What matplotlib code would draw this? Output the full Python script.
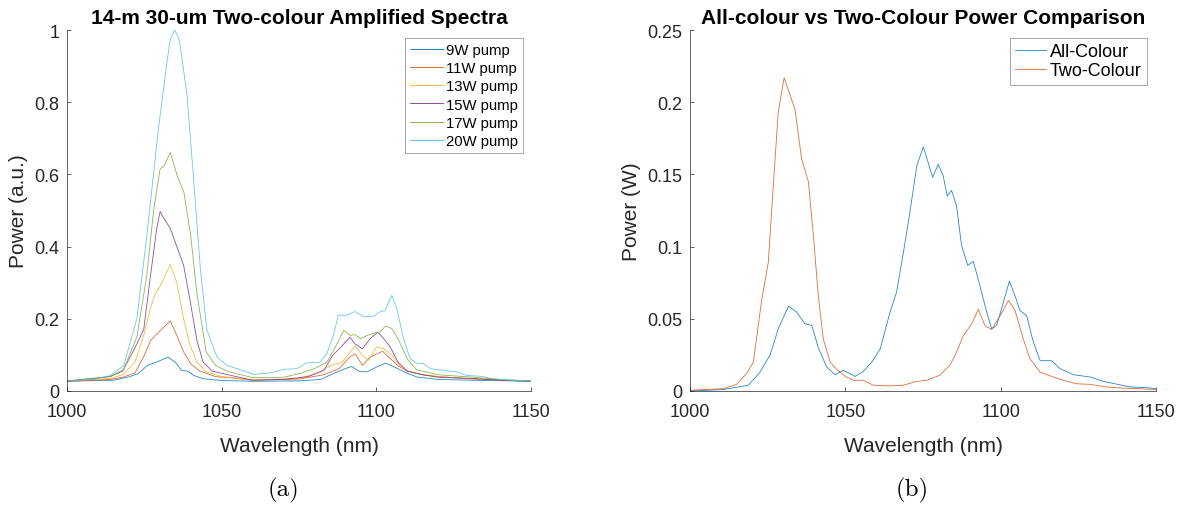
import matplotlib
matplotlib.use("Agg")
import matplotlib.pyplot as plt

# ---------------- data: panel (a) ----------------
wl_9w = [1000, 1015, 1020, 1023, 1026, 1029, 1032.6, 1035, 1037, 1039, 1041, 1044, 1050, 1060, 1075,
         1082, 1086, 1090, 1092, 1094.5, 1097, 1100, 1103, 1106, 1109, 1113, 1120, 1130, 1150]
p_9w = [0.027, 0.030, 0.039, 0.048, 0.071, 0.080, 0.094, 0.080, 0.057, 0.055, 0.043, 0.034, 0.029, 0.027, 0.028,
        0.032, 0.048, 0.062, 0.068, 0.054, 0.053, 0.066, 0.077, 0.066, 0.053, 0.039, 0.032, 0.030, 0.027]

wl_11w = [1000, 1014, 1018, 1022, 1025, 1027, 1029.6, 1033.4, 1035.5, 1037.7, 1040, 1043, 1048, 1055, 1060,
          1075, 1083, 1088, 1091.5, 1093.2, 1095.5, 1098, 1102, 1104.5, 1107, 1110, 1115, 1120, 1130, 1150]
p_11w = [0.027, 0.032, 0.038, 0.050, 0.099, 0.140, 0.163, 0.194, 0.154, 0.108, 0.075, 0.055, 0.040, 0.035, 0.030,
         0.033, 0.045, 0.062, 0.095, 0.103, 0.071, 0.094, 0.110, 0.090, 0.070, 0.055, 0.045, 0.040, 0.034, 0.027]

wl_13w = [1000, 1014, 1018, 1022, 1025, 1027, 1028.5, 1030.1, 1033.4, 1035.5, 1037.7, 1039.8, 1042, 1045, 1050,
          1060, 1075, 1081, 1085, 1089, 1091.5, 1093.2, 1095.5, 1097.5, 1100, 1102.5, 1105, 1107.5, 1110,
          1115, 1120, 1130, 1150]
p_13w = [0.027, 0.035, 0.045, 0.080, 0.160, 0.230, 0.270, 0.290, 0.350, 0.300, 0.200, 0.126, 0.080, 0.053, 0.040,
         0.030, 0.035, 0.050, 0.070, 0.080, 0.108, 0.125, 0.099, 0.085, 0.122, 0.117, 0.099, 0.071, 0.055,
         0.045, 0.040, 0.034, 0.027]

wl_15w = [1000, 1014, 1018, 1022, 1024.8, 1027, 1029, 1030.1, 1031.2, 1033.4, 1035.5, 1037.7, 1039.8, 1042,
          1044, 1047, 1052, 1060, 1070, 1078, 1083, 1086, 1088, 1091.5, 1093, 1095.5, 1098, 1100.5, 1102,
          1104.5, 1107, 1110, 1115, 1120, 1130, 1140, 1150]
p_15w = [0.027, 0.040, 0.055, 0.120, 0.170, 0.320, 0.450, 0.497, 0.480, 0.450, 0.400, 0.348, 0.250, 0.140,
         0.080, 0.055, 0.045, 0.030, 0.032, 0.040, 0.057, 0.100, 0.117, 0.149, 0.131, 0.117, 0.145, 0.163, 0.149,
         0.122, 0.080, 0.055, 0.045, 0.038, 0.035, 0.030, 0.027]

wl_17w = [1000, 1014, 1018.3, 1022.6, 1025.8, 1028, 1030.1, 1031.5, 1033.4, 1035.6, 1037.8, 1040, 1042, 1045,
          1048, 1052, 1060, 1070, 1075, 1080, 1084, 1087, 1089.5, 1091.5, 1093, 1095, 1097, 1099.5, 1101,
          1103, 1105, 1107, 1110, 1113, 1120, 1130, 1140, 1150]
p_17w = [0.028, 0.040, 0.060, 0.150, 0.320, 0.500, 0.615, 0.625, 0.661, 0.597, 0.550, 0.430, 0.270, 0.108,
         0.071, 0.054, 0.037, 0.038, 0.048, 0.062, 0.080, 0.126, 0.168, 0.154, 0.156, 0.145, 0.154, 0.161, 0.163,
         0.180, 0.173, 0.145, 0.089, 0.059, 0.045, 0.039, 0.032, 0.028]

wl_20w = [1000, 1008.6, 1014, 1018.3, 1022.6, 1025.8, 1029.6, 1032.3, 1033.4, 1034.8, 1036, 1036.6, 1038.8,
          1040.9, 1043.1, 1045.2, 1048.5, 1051.7, 1054.9, 1060.3, 1065.7, 1070, 1074.3, 1077.5, 1081.8, 1084,
          1086.1, 1087.7, 1090.4, 1093.1, 1095.8, 1099, 1101.2, 1102.8, 1105, 1106.6, 1108.8, 1110.9, 1113.1,
          1115.3, 1117.4, 1121.7, 1126, 1129.2, 1133.5, 1137.8, 1143.2, 1150]
p_20w = [0.028, 0.032, 0.043, 0.070, 0.200, 0.430, 0.730, 0.910, 0.975, 1.000, 0.980, 0.956, 0.820,
         0.590, 0.340, 0.170, 0.094, 0.071, 0.062, 0.046, 0.050, 0.060, 0.062, 0.078, 0.080, 0.103,
         0.154, 0.210, 0.210, 0.220, 0.207, 0.207, 0.219, 0.223, 0.265, 0.228, 0.145, 0.090, 0.077,
         0.076, 0.062, 0.057, 0.053, 0.043, 0.041, 0.034, 0.030, 0.028]

series_a = [("9W pump", wl_9w, p_9w), ("11W pump", wl_11w, p_11w), ("13W pump", wl_13w, p_13w),
            ("15W pump", wl_15w, p_15w), ("17W pump", wl_17w, p_17w), ("20W pump", wl_20w, p_20w)]

# ---------------- data: panel (b) ----------------
wl_two = [1000, 1010.7, 1015, 1018.2, 1020.4, 1023, 1025.2, 1026.8, 1028.4, 1030.3, 1032.2, 1033.8, 1035.9,
          1038.1, 1039.7, 1041.3, 1042.9, 1045.1, 1047.7, 1050.4, 1052.6, 1055.8, 1059, 1064.4, 1068.7, 1073,
          1076.2, 1080.5, 1083.7, 1085.8, 1088, 1090.7, 1092.8, 1095, 1097.1, 1099.8, 1102.5, 1104.6, 1107.3,
          1109.4, 1112.7, 1117, 1120.2, 1124.5, 1128.8, 1134.1, 1139.5, 1144.8, 1150]
p_two = [0.0005, 0.0016, 0.0046, 0.012, 0.020, 0.062, 0.089, 0.142, 0.193, 0.217, 0.205, 0.195, 0.161,
         0.145, 0.108, 0.066, 0.036, 0.020, 0.014, 0.0097, 0.0074, 0.0074, 0.004, 0.0035, 0.004, 0.0067,
         0.0074, 0.011, 0.018, 0.027, 0.0385, 0.0466, 0.0565, 0.045, 0.0427, 0.052, 0.0627, 0.056, 0.036,
         0.0224, 0.013, 0.0097, 0.0074, 0.005, 0.0046, 0.0028, 0.002, 0.0016, 0.001]

wl_all = [1000, 1010.7, 1018.8, 1022.5, 1025.8, 1028.4, 1031.7, 1034.3, 1037, 1039.2, 1041.3, 1044, 1046.7,
          1049.4, 1053.1, 1055.8, 1058.5, 1061.2, 1064.4, 1066.5, 1068.7, 1070.8, 1073, 1075.1, 1076.7, 1078.1,
          1079.9, 1081.5, 1082.8, 1084.2, 1085.8, 1087.4, 1089.4, 1091.2, 1093.3, 1095.5, 1097.1, 1098.7,
          1100.9, 1102.8, 1104.6, 1106.2, 1108.4, 1110.5, 1112.7, 1116.4, 1119.1, 1123.4, 1128.8, 1133,
          1136.8, 1141.6, 1147, 1150]
p_all = [0.0, 0.001, 0.004, 0.013, 0.025, 0.043, 0.0588, 0.0547, 0.0466, 0.0454, 0.030, 0.0166, 0.0113,
         0.0143, 0.0101, 0.0136, 0.020, 0.029, 0.0547, 0.0685, 0.096, 0.124, 0.156, 0.169, 0.158, 0.148,
         0.157, 0.149, 0.135, 0.139, 0.128, 0.101, 0.087, 0.0897, 0.073, 0.0547, 0.043, 0.0454,
         0.0616, 0.0761, 0.066, 0.0558, 0.052, 0.034, 0.021, 0.021, 0.0155, 0.0113, 0.0097, 0.0067,
         0.005, 0.0028, 0.0023, 0.0016]

series_b = [("All-Colour", wl_all, p_all), ("Two-Colour", wl_two, p_two)]

xticks = [1000, 1050, 1100, 1150]
yticks_a = [0, 0.2, 0.4, 0.6, 0.8, 1.0]
yticklabels_a = ["0", "0.2", "0.4", "0.6", "0.8", "1"]
yticks_b = [0, 0.05, 0.1, 0.15, 0.2, 0.25]
yticklabels_b = ["0", "0.05", "0.1", "0.15", "0.2", "0.25"]

colors = ["#0072BD", "#D95319", "#EDB120", "#7E2F8E", "#77AC30", "#4DBEEE"]

plt.rcParams['font.family'] = ['Liberation Sans', 'DejaVu Sans']

fig = plt.figure(figsize=(11.85, 5.06), dpi=100)
ax1 = fig.add_axes([67/1185, 114/506, 464/1185, 361/506])
ax2 = fig.add_axes([690/1185, 114/506, 466/1185, 361/506])

for i, (lab, x, y) in enumerate(series_a):
    ax1.plot(x, y, color=colors[i], lw=0.6, alpha=0.85, label=lab)
for i, (lab, x, y) in enumerate(series_b):
    ax2.plot(x, y, color=colors[i], lw=0.6, alpha=0.85, label=lab)


def style(ax, yt, ytl, ylim, ylabel, title):
    ax.set_xlim(1000, 1150)
    ax.set_ylim(*ylim)
    ax.set_xticks(xticks)
    ax.set_xticklabels([str(t) for t in xticks])
    ax.set_yticks(yt)
    ax.set_yticklabels(ytl)
    ax.spines['top'].set_visible(False)
    ax.spines['right'].set_visible(False)
    for s in ('left', 'bottom'):
        ax.spines[s].set_color('#262626')
        ax.spines[s].set_linewidth(0.5)
    ax.tick_params(direction='in', length=3, width=0.5, labelsize=13, colors='#262626')
    ax.tick_params(axis='x', pad=9)
    ax.tick_params(axis='y', pad=5.5)
    ax.set_xlabel("Wavelength (nm)", fontsize=15, color='#262626', labelpad=11)
    ax.set_ylabel(ylabel, fontsize=15, color='#262626', labelpad=4.5)
    ax.set_title(title, fontsize=15, fontweight='bold', pad=5)


style(ax1, yticks_a, yticklabels_a, (0, 1.0), "Power (a.u.)",
      "14-m 30-um Two-colour Amplified Spectra")
style(ax2, yticks_b, yticklabels_b, (0, 0.25), "Power (W)",
      "All-colour vs Two-Colour Power Comparison")

leg1 = ax1.legend(loc='upper right', bbox_to_anchor=(0.983, 0.978), fontsize=10.7, frameon=True,
                  fancybox=False, edgecolor='#7f7f7f', borderpad=0.35, labelspacing=0.28,
                  handlelength=2.2, handletextpad=0.2, borderaxespad=0)
leg1.get_frame().set_linewidth(0.6)
for h in leg1.get_lines():
    h.set_alpha(1.0)
leg2 = ax2.legend(loc='upper right', bbox_to_anchor=(0.98, 0.978), fontsize=13, frameon=True,
                  fancybox=False, edgecolor='#7f7f7f', borderpad=0.3, labelspacing=0.1,
                  handlelength=1.7, handletextpad=0.2, borderaxespad=0)
leg2.get_frame().set_linewidth(0.6)

fig.text(283/1185, 1 - 490/506, "(a)", fontsize=18, family=['cmr10', 'DejaVu Serif'],
         ha='center', va='center')
fig.text(912/1185, 1 - 490/506, "(b)", fontsize=18, family=['cmr10', 'DejaVu Serif'],
         ha='center', va='center')

fig.savefig("out.png", dpi=100)
